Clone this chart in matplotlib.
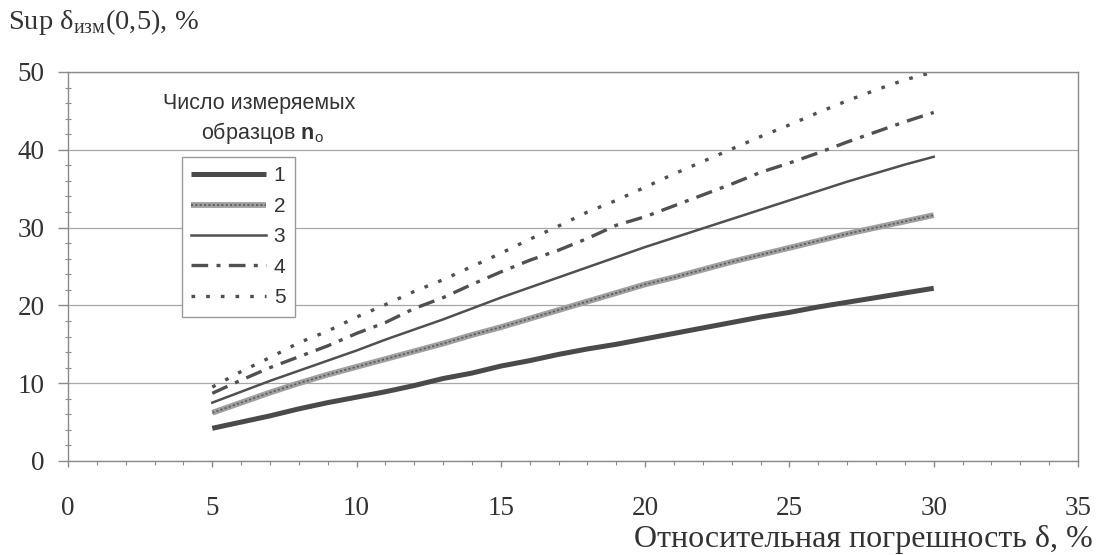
import matplotlib
matplotlib.use('Agg')
import matplotlib.pyplot as plt
from matplotlib.ticker import MultipleLocator
from matplotlib.legend_handler import HandlerTuple

plt.rcParams['mathtext.fontset'] = 'custom'
plt.rcParams['mathtext.rm'] = 'Liberation Serif'
plt.rcParams['mathtext.bf'] = 'Liberation Sans:bold'
plt.rcParams['mathtext.sf'] = 'Liberation Sans'

# относительная погрешность, %
delta = [5, 6, 7, 8, 9, 10, 11, 12, 13, 14, 15, 16, 17, 18, 19, 20,
         21, 22, 23, 24, 25, 26, 27, 28, 29, 30]

# Sup δизм(0,5) для разного числа образцов n_o
n1 = [4.2, 5.0, 5.8, 6.7, 7.5, 8.2, 8.9, 9.7, 10.6, 11.3, 12.2, 12.9, 13.7,
      14.4, 15.0, 15.7, 16.4, 17.1, 17.8, 18.5, 19.1, 19.8, 20.4, 21.0, 21.6, 22.2]
n2 = [6.2, 7.5, 8.8, 10.0, 11.1, 12.1, 13.1, 14.1, 15.1, 16.2, 17.2, 18.3, 19.4,
      20.5, 21.6, 22.7, 23.6, 24.6, 25.6, 26.5, 27.4, 28.3, 29.2, 30.0, 30.8, 31.6]
n3 = [7.5, 8.9, 10.3, 11.6, 12.9, 14.2, 15.6, 16.9, 18.2, 19.6, 21.0, 22.3, 23.6,
      24.9, 26.2, 27.5, 28.7, 29.9, 31.1, 32.3, 33.5, 34.7, 35.9, 37.0, 38.1, 39.1]
n4 = [8.7, 10.4, 12.0, 13.4, 14.8, 16.4, 17.8, 19.6, 21.0, 22.7, 24.3, 25.8, 27.1,
      28.6, 30.3, 31.4, 32.8, 34.2, 35.6, 37.1, 38.3, 39.6, 41.0, 42.3, 43.6, 44.8]
n5 = [9.5, 11.5, 13.3, 15.2, 16.7, 18.5, 20.1, 21.8, 23.3, 25.0, 26.7, 28.5, 30.2,
      32.0, 33.5, 35.2, 36.9, 38.5, 40.1, 41.7, 43.2, 44.8, 46.3, 47.7, 49.0, 50.0]

labels = ['1', '2', '3', '4', '5']

fig = plt.figure(figsize=(10.97, 5.55), dpi=100)
ax = fig.add_axes([0.062, 0.1694, 0.9207, 0.7009])

l1, = ax.plot(delta, n1, color='#4a4a4a', lw=3.6, solid_capstyle='butt')
l2a, = ax.plot(delta, n2, color='#a0a0a0', lw=4.2, solid_capstyle='butt')
l2b, = ax.plot(delta, n2, color='#5e5e5e', lw=1.3, dashes=(1.2, 1.2))
l3, = ax.plot(delta, n3, color='#505050', lw=1.8)
l4, = ax.plot(delta, n4, color='#505050', lw=2.4, dashes=(5, 2.5, 1.2, 2.5))
l5, = ax.plot(delta, n5, color='#505050', lw=2.4, dashes=(1.1, 3.3))

ax.set_xlim(0, 35)
ax.set_ylim(0, 50)
ax.xaxis.set_major_locator(MultipleLocator(5))
ax.xaxis.set_minor_locator(MultipleLocator(1))
ax.yaxis.set_major_locator(MultipleLocator(10))
ax.yaxis.set_minor_locator(MultipleLocator(2))

ax.grid(axis='y', which='major', color='#a8a8a8', lw=0.9)
for s in ax.spines.values():
    s.set_color('#8a8a8a')
    s.set_linewidth(1.0)

ax.tick_params(axis='y', which='major', direction='out', length=7, width=1,
               color='#8a8a8a', pad=10, labelsize=19.5, labelcolor='#333333')
ax.tick_params(axis='y', which='minor', direction='inout', length=5, width=0.8,
               color='#8a8a8a')
ax.tick_params(axis='x', which='major', direction='out', length=4, width=1,
               color='#8a8a8a', pad=21, labelsize=19.5, labelcolor='#333333')
ax.tick_params(axis='x', which='minor', direction='out', length=3, width=0.8,
               color='#8a8a8a')
for lab in ax.get_xticklabels() + ax.get_yticklabels():
    lab.set_family('Liberation Serif')

fig.text(8 / 1097, 1 - 22 / 555, 'Sup δ$_{\\mathrm{изм}}$(0,5), %',
         family='Liberation Serif', fontsize=20.5, color='#333333', va='center')
fig.text(1093 / 1097, 1 - 539 / 555, 'Относительная погрешность δ, %',
         family='Liberation Serif', fontsize=23, color='#333333',
         ha='right', va='center')

# заголовок легенды стоит над рамкой
fig.text(259 / 1097, 1 - 103 / 555, 'Число измеряемых',
         family='Liberation Sans', fontsize=15.5, color='#333333',
         ha='center', va='center')
fig.text(262 / 1097, 1 - 133 / 555, 'образцов $\\mathbf{n}_{\\mathsf{o}}$',
         family='Liberation Sans', fontsize=15.5, color='#333333',
         ha='center', va='center')

leg = ax.legend([l1, (l2a, l2b), l3, l4, l5], labels,
                handler_map={tuple: HandlerTuple(ndivide=1, pad=0)},
                loc='upper left', bbox_to_anchor=(182 / 1097, 1 - 157 / 555),
                bbox_transform=fig.transFigure, fancybox=False,
                handlelength=3.6, handletextpad=0.35, labelspacing=0.55,
                borderpad=0.45, borderaxespad=0, framealpha=1,
                prop={'family': 'Liberation Sans', 'size': 15})
leg.get_frame().set_edgecolor('#9a9a9a')
leg.get_frame().set_linewidth(1.0)
for t in leg.get_texts():
    t.set_color('#333333')

fig.savefig('out.png', dpi=100)
